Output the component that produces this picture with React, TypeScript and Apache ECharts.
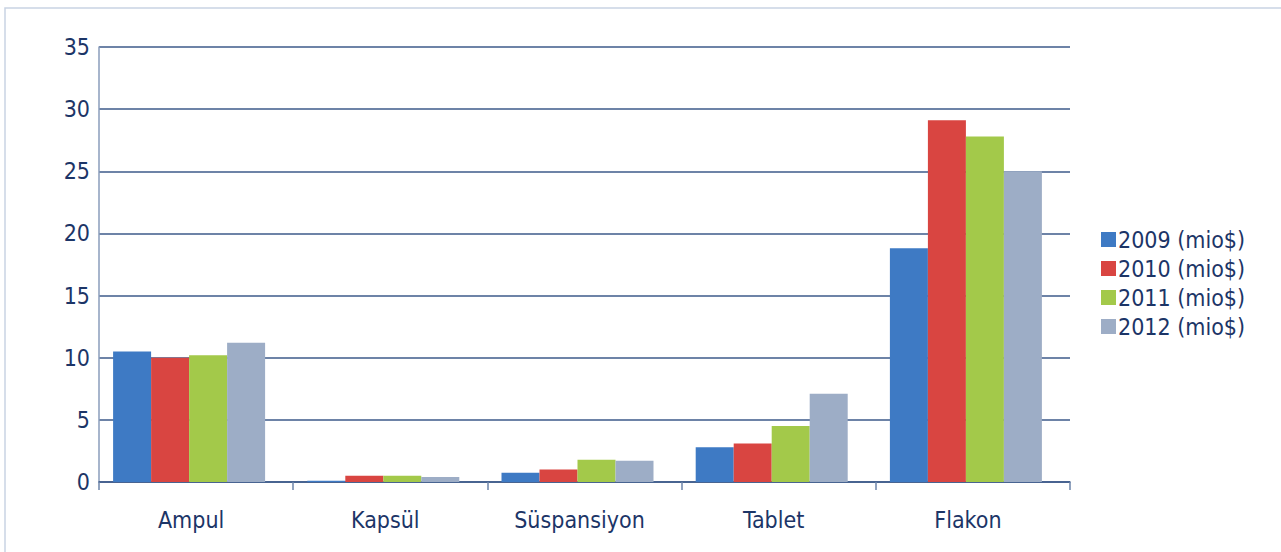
import React, { useEffect, useRef } from "react";
import * as echarts from "echarts";

const categories = ["Ampul", "Kapsül", "Süspansiyon", "Tablet", "Flakon"];
const seriesNames = ["2009 (mio$)", "2010 (mio$)", "2011 (mio$)", "2012 (mio$)"];
const v2009 = [10.5, 0.1, 0.75, 2.8, 18.8];
const v2010 = [10.0, 0.5, 1.0, 3.1, 29.1];
const v2011 = [10.2, 0.5, 1.8, 4.5, 27.8];
const v2012 = [11.2, 0.4, 1.7, 7.1, 25.0];
const spacer = [0, 0, 0, 0, 0];
const colors = ["#3e7ac4", "#d94541", "#a3c94a", "#9dadc6"];

export default function App() {
  const ref = useRef<HTMLDivElement>(null);
  useEffect(() => {
    const chart = echarts.init(ref.current!, null, { renderer: "svg" });
    const data = [v2009, v2010, v2011, v2012];
    const textColor = "#1c3567";
    const font = "'DejaVu Sans Condensed', 'Liberation Sans Narrow', 'Roboto', sans-serif";
    const bars = data.map((d, i) => ({
      name: seriesNames[i],
      type: "bar",
      data: d,
      barGap: "0%",
      barWidth: 38,
      itemStyle: { color: colors[i] },
    }));
    chart.setOption({
      animation: false,
      color: colors,
      graphic: [
        {
          type: "rect",
          shape: { x: 5, y: 8, width: 1400, height: 700 },
          style: { fill: "none", stroke: "#c9d3e3", lineWidth: 1.5 },
          silent: true,
        },
      ],
      grid: { left: 99, right: 211, top: 47, bottom: 70, containLabel: false },
      legend: {
        orient: "vertical",
        left: 1096,
        top: 223,
        itemWidth: 15,
        itemHeight: 15,
        itemGap: 6,
        icon: "rect",
        textStyle: { color: textColor, fontSize: 23, fontFamily: font, padding: [0, 0, 0, -3] },
        data: seriesNames,
      },
      xAxis: {
        type: "category",
        data: categories,
        axisLine: { lineStyle: { color: "#3d5a8a", width: 1.5 } },
        axisTick: { show: true, length: 8, lineStyle: { color: "#6d84aa", width: 1.5 } },
        axisLabel: {
          color: textColor,
          fontSize: 23,
          fontFamily: font,
          margin: 26,
          padding: [0, 10, 0, 0],
        },
      },
      yAxis: {
        type: "value",
        min: 0,
        max: 35,
        interval: 5,
        axisLine: { show: true, lineStyle: { color: "#8a9cbb", width: 1.5 } },
        axisTick: { show: false },
        splitLine: { lineStyle: { color: "#3d5a8a", width: 1.5 } },
        axisLabel: { color: textColor, fontSize: 23, fontFamily: font, margin: 9 },
      },
      series: [
        ...bars,
        {
          name: "spacer",
          type: "bar",
          data: spacer,
          barGap: "0%",
          barWidth: 14,
          silent: true,
          itemStyle: { color: "rgba(0,0,0,0)" },
        },
      ],
    });
    return () => chart.dispose();
  }, []);
  return (
    <div
      ref={ref}
      style={{ position: "absolute", left: 0, top: 0, width: 1281, height: 552 }}
    />
  );
}
